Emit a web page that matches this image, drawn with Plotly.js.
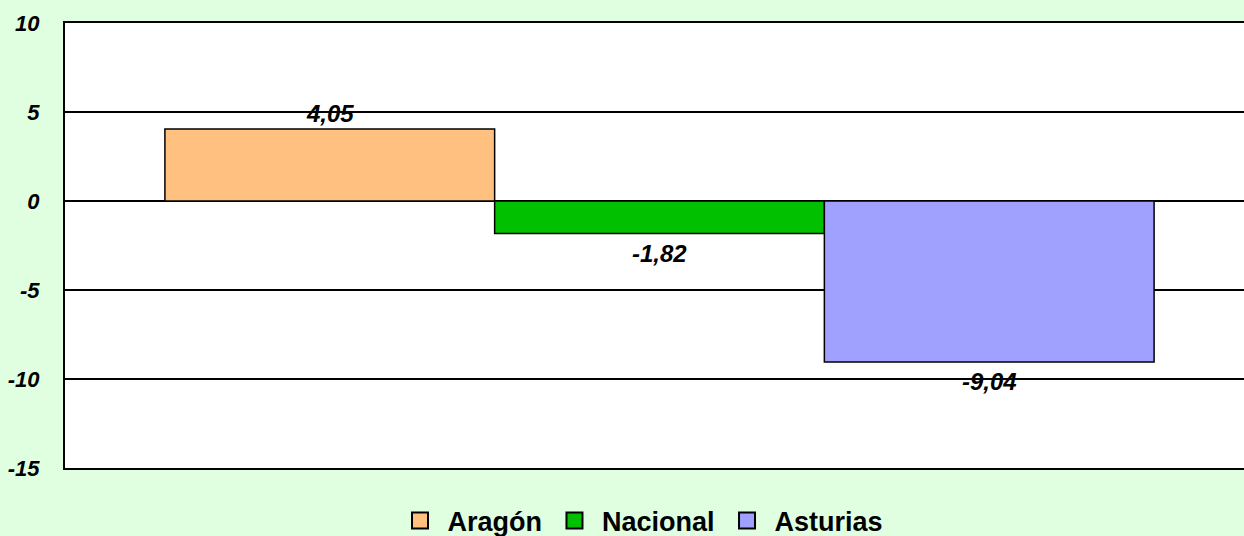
<!DOCTYPE html>
<html>
<head>
<meta charset="utf-8">
<script src="https://cdn.plot.ly/plotly-3.0.1.min.js"></script>
<style>
html,body{margin:0;padding:0;background:#E0FFE0;overflow:hidden;width:1244px;height:536px;}
#chart{width:1264px;height:536px;}
</style>
</head>
<body>
<div id="chart"></div>
<script>
const categories = ["Aragón", "Nacional", "Asturias"];
const values = [4.05, -1.82, -9.04];
const colors = ["#FFC080", "#00C000", "#A0A0FF"];
const tickValues = [10, 5, 0, -5, -10, -15];
const tickLabels = ["10", "5", "0", "-5", "-10", "-15"];

const barTraces = categories.map((c, i) => ({
  type: "bar",
  name: c,
  x: [i],
  y: [values[i]],
  width: 1,
  showlegend: false,
  legendgroup: c,
  marker: {color: colors[i], line: {color: "#000", width: 1.5}},
  hoverinfo: "skip"
}));

// legend entries (larger square symbols, like the original legend keys)
const legendTraces = categories.map((c, i) => ({
  type: "scatter", mode: "markers",
  name: c, legendgroup: c,
  x: [null], y: [null],
  marker: {symbol: "square", size: 16, color: colors[i], line: {color: "#000", width: 2}},
  hoverinfo: "skip"
}));

const fmt = v => v.toFixed(2).replace(".", ",");
const annotations = categories.map((c, i) => ({
  x: i, y: values[i], xref: "x", yref: "y",
  text: "<b><i>" + fmt(values[i]) + "</i></b>",
  showarrow: false,
  yshift: values[i] >= 0 ? 15 : -20,
  font: {family: "Liberation Sans, Arial, sans-serif", size: 24, color: "#000"}
}));

const layout = {
  width: 1264, height: 536,
  paper_bgcolor: "#E0FFE0",
  plot_bgcolor: "#FFFFFF",
  margin: {l: 65, r: 10, t: 23, b: 68, autoexpand: false},
  barmode: "overlay",
  showlegend: true,
  legend: {
    orientation: "h", x: 0.484, xanchor: "center",
    yref: "container", y: 0.028, yanchor: "middle",
    font: {family: "Liberation Sans, Arial, sans-serif", size: 27, color: "#000", weight: "bold"},
    bgcolor: "rgba(0,0,0,0)", itemwidth: 45, itemclick: false
  },
  xaxis: {
    range: [-0.803, 2.803],
    showticklabels: false, showgrid: false, zeroline: false,
    showline: true, linecolor: "#000", linewidth: 2, mirror: true, fixedrange: true
  },
  yaxis: {
    range: [-15, 10],
    tickvals: tickValues, ticktext: tickLabels,
    showgrid: true, gridcolor: "#000", gridwidth: 1.5,
    zeroline: true, zerolinecolor: "#000", zerolinewidth: 2,
    showline: true, linecolor: "#000", linewidth: 2, mirror: true,
    ticks: "", ticklabelstandoff: 19, automargin: false,
    tickfont: {family: "Liberation Sans, Arial, sans-serif", size: 22, color: "#000", weight: "bold", style: "italic"},
    fixedrange: true
  },
  annotations: annotations
};

Plotly.newPlot("chart", barTraces.concat(legendTraces), layout, {displayModeBar: false, staticPlot: true});
</script>
</body>
</html>
